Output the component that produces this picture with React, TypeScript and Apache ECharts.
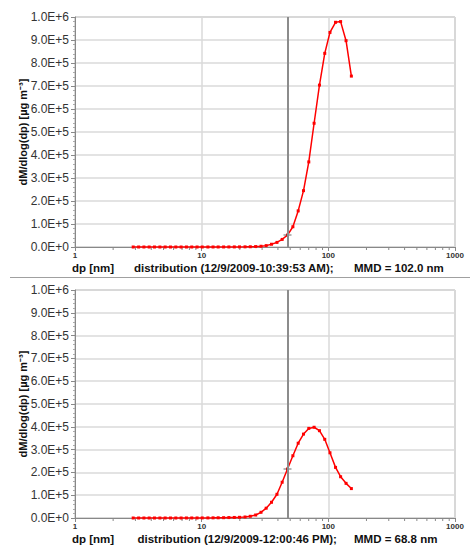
import React, { useEffect, useRef } from "react";
import * as echarts from "echarts";

// particle diameters [nm]
const diameters = [
  2.88, 3.18, 3.5, 3.85, 4.24, 4.68, 5.15, 5.67, 6.25, 6.88, 7.58, 8.35, 9.2, 10.1,
  11.2, 12.3, 13.5, 14.9, 16.4, 18.1, 19.9, 22.0, 24.2, 26.7, 29.4, 32.3, 35.6, 39.3,
  43.2, 47.6, 52.5, 57.8, 63.7, 70.1, 77.2, 85.1, 93.7, 103, 114, 125, 138, 152,
];

// dM/dlog(dp) first distribution (10:39:53 AM)
const massTop = [
  0, 0, 0, 0, 0, 0, 0, 0, 0, 0, 0, 0, 0, 0,
  50, 80, 120, 180, 250, 350, 500, 700, 1100, 1800, 3200,
  6000, 12000, 20000, 33000, 52000, 88000, 157000, 245000, 370000, 538000,
  704000, 842000, 933000, 977000, 980000, 897000, 743000,
];

// dM/dlog(dp) second distribution (12:00:46 PM)
const massBottom = [
  0, 0, 0, 0, 0, 0, 0, 0, 0, 0,
  100, 150, 250, 350, 500, 700, 1000, 1400, 1900, 2400,
  3000, 4400, 7500, 13000, 25000, 43000, 69000, 104000, 157000, 215000,
  273000, 328000, 368000, 393000, 398000, 383000, 345000, 286000, 222000,
  181000, 152000, 129000,
];

const cursorIndex = 29;
const minorTickValues = [2, 3, 4, 5, 6, 7, 8, 9, 20, 30, 40, 50, 60, 70, 80, 90, 200, 300, 400, 500, 600, 700, 800, 900];

const captionsLeft = ["dp [nm]", "dp [nm]"];
const captionsMid = [
  "distribution (12/9/2009-10:39:53 AM);",
  "distribution (12/9/2009-12:00:46 PM);",
];
const captionsRight = ["MMD = 102.0 nm", "MMD = 68.8 nm"];
const yAxisTitle = "dM/dlog(dp) [µg m⁻³]";

const FONT = 'Arial, "Liberation Sans", Helvetica, sans-serif';

export default function App() {
  const ref = useRef<HTMLDivElement>(null);
  useEffect(() => {
    if (!ref.current) return;
    const chart = echarts.init(ref.current, undefined, { renderer: "svg" });
    const sets = [massTop, massBottom];
    const grids = [
      { left: 75, top: 17, width: 380, height: 230 },
      { left: 75, top: 290, width: 380, height: 228 },
    ];
    const plusPath = "path://M3.5,0H4.5V3.5H8V4.5H4.5V8H3.5V4.5H0V3.5H3.5Z";

    const series: any[] = [];
    sets.forEach((vals, i) => {
      series.push({
        type: "line",
        xAxisIndex: i,
        yAxisIndex: i,
        data: diameters.map((d, k) => [d, vals[k]]),
        lineStyle: { color: "#ff0000", width: 1.5 },
        itemStyle: { color: "#ff0000" },
        symbol: "rect",
        symbolSize: 3,
        showSymbol: true,
        showAllSymbol: true,
        silent: true,
        z: 3,
        markLine: {
          silent: true,
          symbol: "none",
          label: { show: false },
          lineStyle: { color: "#8c8c8c", width: 2, type: "solid" },
          data: [{ xAxis: diameters[cursorIndex] }],
        },
      });
      series.push({
        type: "scatter",
        xAxisIndex: i,
        yAxisIndex: i,
        data: [[diameters[cursorIndex], vals[cursorIndex]]],
        symbol: plusPath,
        symbolSize: 8,
        itemStyle: { color: "#444" },
        silent: true,
        z: 4,
      });
      series.push({
        type: "custom",
        xAxisIndex: i,
        yAxisIndex: i,
        silent: true,
        clip: false,
        data: minorTickValues.map((v) => [v, 0]),
        renderItem: (_p: any, api: any) => {
          const pt = api.coord([api.value(0), api.value(1)]);
          return {
            type: "line",
            shape: { x1: pt[0], y1: pt[1], x2: pt[0], y2: pt[1] + 3 },
            style: { stroke: "#888", lineWidth: 1 },
          };
        },
      });
    });

    const graphic: any[] = [
      {
        type: "line",
        shape: { x1: 10, y1: 277.5, x2: 470, y2: 277.5 },
        style: { stroke: "#a0a0a0", lineWidth: 1 },
      },
    ];
    const capY = [268, 538.5];
    const nameY = [132, 404];
    [0, 1].forEach((i) => {
      const s = { fontFamily: FONT, fontSize: 11.5, fontWeight: "bold", fill: "#111", verticalAlign: "middle" };
      graphic.push({ type: "text", x: 72, y: capY[i], style: { ...s, text: captionsLeft[i], align: "left" } });
      graphic.push({ type: "text", x: i === 0 ? 134 : 137.5, y: capY[i], style: { ...s, text: captionsMid[i], align: "left" } });
      graphic.push({ type: "text", x: 354, y: capY[i], style: { ...s, text: captionsRight[i], align: "left" } });
      graphic.push({
        type: "text",
        x: 22.5,
        y: nameY[i],
        rotation: Math.PI / 2,
        style: { ...s, fontSize: 11, text: yAxisTitle, align: "center" },
      });
    });

    chart.setOption({
      animation: false,
      grid: grids.map((g) => ({ ...g, show: true, borderColor: "#a8a8a8", borderWidth: 1, containLabel: false })),
      xAxis: [0, 1].map((i) => ({
        type: "log",
        logBase: 10,
        gridIndex: i,
        min: 1,
        max: 1000,
        axisLine: { show: true, onZero: false, lineStyle: { color: "#888", width: 1 } },
        axisTick: { show: true, length: 4, lineStyle: { color: "#888" } },
        axisLabel: {
          fontSize: 8,
          fontWeight: "bold",
          color: "#333",
          margin: 4,
          fontFamily: FONT,
          formatter: (v: number) => String(Math.round(v)),
        },
        splitLine: { show: true, lineStyle: { color: "#dadada", width: 1.5 } },
      })),
      yAxis: [0, 1].map((i) => ({
        type: "value",
        gridIndex: i,
        min: 0,
        max: 1000000,
        interval: 100000,
        axisLine: { show: true, lineStyle: { color: "#888", width: 1 } },
        axisTick: { show: true, length: 4, lineStyle: { color: "#888" } },
        minorTick: { show: true, splitNumber: 5, length: 2, lineStyle: { color: "#aaa" } },
        axisLabel: {
          fontSize: 12,
          color: "#333",
          margin: 6,
          fontFamily: FONT,
          formatter: (v: number) => v.toExponential(1).toUpperCase(),
        },
        splitLine: { show: true, lineStyle: { color: "#dadada", width: 1.5 } },
      })),
      series,
      graphic,
    });
    return () => chart.dispose();
  }, []);
  return (
    <div
      ref={ref}
      style={{ position: "fixed", left: 0, top: 0, width: 470, height: 547, background: "#fff" }}
    />
  );
}
